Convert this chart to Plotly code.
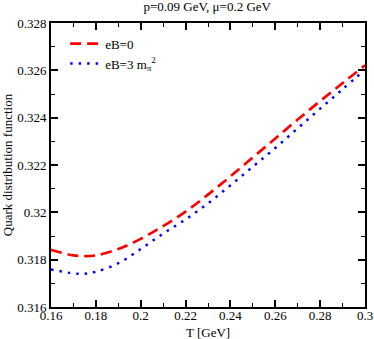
import plotly.graph_objects as go

T = [0.16, 0.17, 0.175, 0.18, 0.19, 0.20, 0.21, 0.22, 0.23, 0.24, 0.25, 0.26, 0.27, 0.28, 0.29, 0.30]
f_eB0 = [0.31842, 0.31818, 0.31815, 0.31818, 0.31845, 0.31888, 0.31942, 0.32003, 0.32075, 0.32152,
         0.32232, 0.32312, 0.32392, 0.32470, 0.32546, 0.32621]
f_eB3 = [0.31759, 0.31742, 0.31741, 0.31749, 0.31785, 0.31845, 0.31910, 0.31970, 0.32038, 0.32114,
         0.32193, 0.32272, 0.32355, 0.32438, 0.32520, 0.32603]
names = ["eB=0", "eB=3 m<sub>π</sub><sup>2</sup>"]

FONT = "Liberation Serif"

fig = go.Figure()
fig.add_trace(go.Scatter(x=T, y=f_eB0, mode="lines", name=names[0], line_shape="spline",
                         line=dict(color="#ff0000", width=2.7, dash="11px,6px")))
fig.add_trace(go.Scatter(x=T, y=f_eB3, mode="lines", name=names[1], line_shape="spline",
                         line=dict(color="#0000ff", width=2.5, dash="2.5px,6px")))

axis_common = dict(showline=True, linecolor="black", linewidth=2, mirror="allticks",
                   ticks="inside", ticklen=7, tickwidth=1.5, tickcolor="black",
                   showgrid=False, zeroline=False, automargin=False,
                   tickfont=dict(family=FONT, size=13, color="black"))

fig.update_xaxes(range=[0.16, 0.30], dtick=0.02, tick0=0.16, ticklabelstandoff=-5,
                 minor=dict(ticks="inside", ticklen=4, dtick=0.01, tickcolor="black", tickwidth=1),
                 **axis_common)
fig.update_yaxes(range=[0.316, 0.328], dtick=0.002, tick0=0.316,
                 minor=dict(ticks="inside", ticklen=4, dtick=0.001, tickcolor="black", tickwidth=1),
                 title=dict(text="Quark distribution function", font=dict(family=FONT, size=13, color="black"), standoff=4),
                 **axis_common)

fig.add_annotation(text="T [GeV]", xref="paper", yref="paper", x=0.5, y=-0.09,
                   xanchor="center", yanchor="middle", showarrow=False,
                   font=dict(family=FONT, size=13, color="black"))

fig.update_layout(
    width=374, height=339,
    margin=dict(l=51, r=9, t=23, b=32, autoexpand=False),
    paper_bgcolor="white", plot_bgcolor="white",
    title=dict(text="p=0.09 GeV, μ=0.2 GeV", x=0.554, xanchor="center", y=0.995, yanchor="top",
               font=dict(family=FONT, size=13, color="black")),
    legend=dict(x=0.045, y=0.98, xanchor="left", yanchor="top", bgcolor="rgba(0,0,0,0)",
                font=dict(family=FONT, size=13, color="black"), tracegroupgap=0,
                itemwidth=30),
    showlegend=True,
)

fig.write_html("out.html", config={"displayModeBar": False},
               post_script="document.body.style.margin='0';document.body.style.overflow='hidden';")
